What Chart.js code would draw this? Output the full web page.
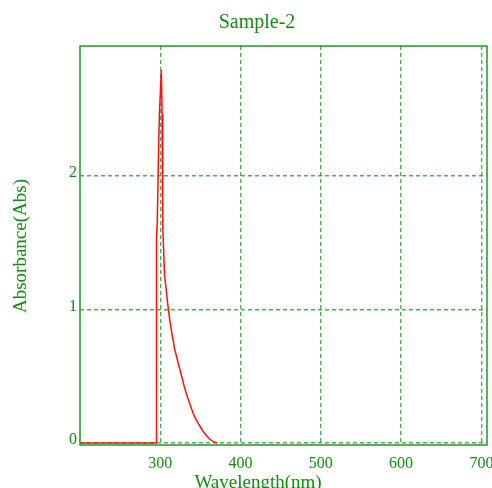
<!DOCTYPE html>
<html>
<head>
<meta charset="utf-8">
<script src="https://cdn.jsdelivr.net/npm/chart.js@4/dist/chart.umd.min.js"></script>
<style>
    html, body { margin: 0; padding: 0; background: #fff; }
    #wrap { width: 492px; height: 488px; }
</style>
</head>
<body>
<div id="wrap"><canvas id="chart" width="492" height="488"></canvas></div>
<script>
// Spectrum
const wavelengths = [200, 295, 295.3, 296.3, 298, 299, 301.3, 302.3, 303.1, 305.3, 307.3, 309.3, 311.8, 315, 318, 321, 324, 327, 330, 333.5, 337, 341, 345, 349, 353, 357, 361.5, 366, 371];
const absorbance  = [0,   0,   1.54,  1.66,  2.23, 2.47, 2.79, 2.46, 1.62, 1.26, 1.15, 1.04, 0.92, 0.80, 0.70, 0.63, 0.56, 0.49, 0.42, 0.35, 0.29, 0.22, 0.17, 0.13, 0.09, 0.06, 0.03, 0.01, 0.0];
const xTicks = [300, 400, 500, 600, 700];
const yTicks = [0, 1, 2];

const titleText = 'Sample-2';
const xTitle = 'Wavelength(nm)';
const yTitle = 'Absorbance(Abs)';

const green = '#138a13';
const gridGreen = 'rgba(40, 150, 40, 0.8)';

// Frame around the plot plus the titles, drawn by hand
const framePlugin = {
    id: 'frame',
    afterDraw(chart) {
        const ctx = chart.ctx;
        const a = chart.chartArea;
        ctx.save();
        ctx.strokeStyle = 'rgb(50, 155, 50)';
        ctx.lineWidth = 1.6;
        ctx.strokeRect(a.left, a.top, a.right - a.left, a.bottom - a.top);

        ctx.fillStyle = green;
        ctx.textAlign = 'center';
        ctx.textBaseline = 'middle';
        ctx.font = '20px "Liberation Serif"';
        ctx.fillText(titleText, 257, 23);
        ctx.font = '19px "Liberation Serif"';
        ctx.fillText(xTitle, 258, 483);
        ctx.translate(21, 246);
        ctx.rotate(-Math.PI / 2);
        ctx.fillText(yTitle, 0, 0);
        ctx.restore();
    }
};

const ctx = document.getElementById('chart').getContext('2d');
new Chart(ctx, {
    type: 'line',
    data: {
        datasets: [{
            data: wavelengths.map((w, i) => ({ x: w, y: absorbance[i] })),
            borderColor: '#ff1010',
            borderWidth: 1.5,
            pointRadius: 0,
            tension: 0,
            fill: false
        }]
    },
    options: {
        responsive: false,
        animation: false,
        layout: { padding: { top: 46, right: 5, left: 0, bottom: 0 } },
        plugins: {
            legend: { display: false },
            title: { display: false },
            tooltip: { enabled: false }
        },
        scales: {
            x: {
                type: 'linear',
                min: 200,
                max: 707,
                afterBuildTicks: (scale) => { scale.ticks = xTicks.map(v => ({ value: v })); },
                afterFit: (scale) => {
                    scale.height = 43;
                    scale.paddingLeft = 0;
                    scale.paddingRight = 0;
                },
                border: { display: false, dash: [4, 3] },
                grid: {
                    color: gridGreen,
                    lineWidth: 1.4,
                    drawTicks: false
                },
                ticks: {
                    padding: 9,
                    color: green,
                    font: { family: 'Liberation Serif', size: 16 },
                    maxRotation: 0
                }
            },
            y: {
                min: -0.015,
                max: 2.97,
                afterBuildTicks: (scale) => { scale.ticks = yTicks.map(v => ({ value: v })); },
                afterFit: (scale) => {
                    scale.width = 80;
                    scale.paddingTop = 0;
                    scale.paddingBottom = 0;
                },
                border: { display: false, dash: [4, 3] },
                grid: {
                    color: gridGreen,
                    lineWidth: 1.4,
                    drawTicks: false
                },
                ticks: {
                    padding: 3,
                    labelOffset: -3,
                    color: green,
                    font: { family: 'Liberation Serif', size: 16 }
                }
            }
        }
    },
    plugins: [framePlugin]
});
</script>
</body>
</html>
